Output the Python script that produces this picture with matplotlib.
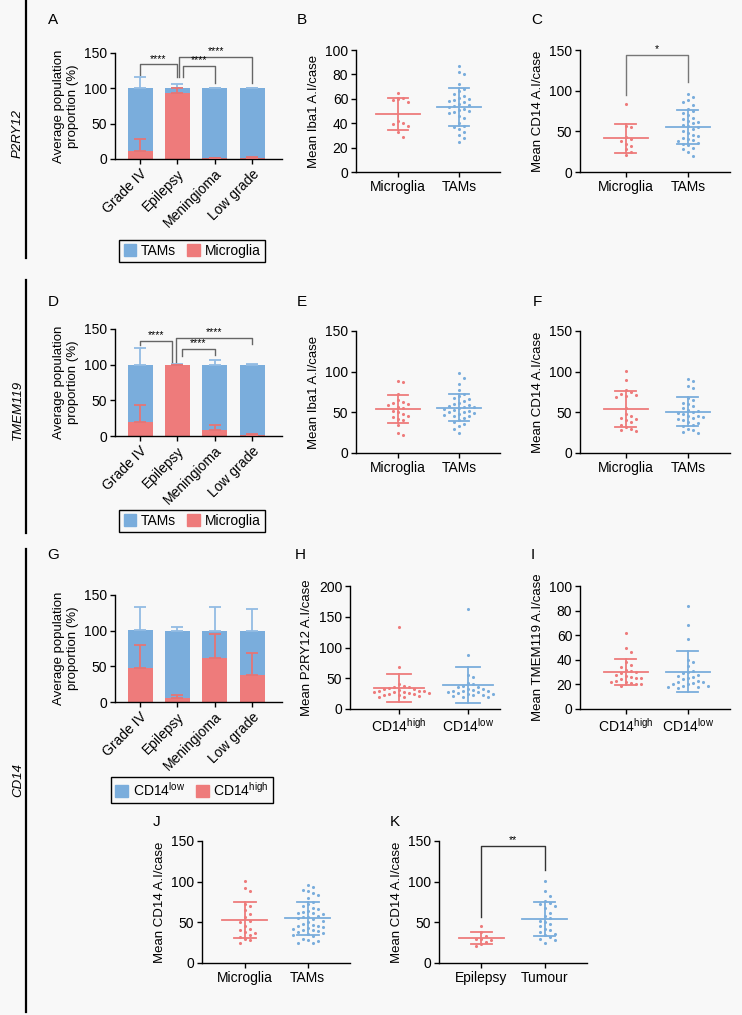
import matplotlib
matplotlib.use('Agg')
import matplotlib.pyplot as plt
from matplotlib.patches import Patch
from matplotlib.lines import Line2D
import numpy as np

plt.rcParams['font.family'] = ['Liberation Sans', 'DejaVu Sans']
plt.rcParams['mathtext.fontset'] = 'custom'
plt.rcParams['mathtext.rm'] = 'Liberation Sans'
plt.rcParams['mathtext.it'] = 'Liberation Sans:italic'
plt.rcParams['font.size'] = 10

W, H = 742, 1015
BG = '#f8f8f8'
BLUE = '#7aaddc'
RED = '#ee7b7b'
BLUE_ERR = '#93bce3'
RED_ERR = '#e57575'

groups = ['Grade IV', 'Epilepsy', 'Meningioma', 'Low grade']

# average population proportion (%) per tumour type
p2ry12_micro = [12, 93, 1, 2]
p2ry12_micro_sd = [16, 7, 0.5, 0.8]
p2ry12_tams = [88, 7, 99, 98]
p2ry12_tams_sd = [16, 6, 0.5, 0.8]

tmem119_micro = [20, 99, 8, 2]
tmem119_micro_sd = [23, 0.8, 7, 1]
tmem119_tams = [80, 1, 92, 98]
tmem119_tams_sd = [23, 0.8, 7, 1]

cd14_high = [48, 5, 62, 38]
cd14_high_sd = [32, 5, 34, 31]
cd14_low = [53, 95, 38, 62]
cd14_low_sd = [32, 5, 33, 30]

# mean A.I per case
b_micro = [65, 61, 60, 59, 57, 42, 40, 39, 38, 33, 29]
b_tams = [87, 82, 80, 72, 68, 66, 64, 62, 61, 60, 59, 58, 57, 56, 55, 54, 53, 52,
          51, 50, 49, 48, 46, 44, 40, 38, 37, 35, 33, 30, 28, 25]
c_micro = [83, 57, 55, 43, 41, 38, 35, 32, 28, 24, 21]
c_tams = [96, 92, 88, 86, 82, 78, 75, 72, 70, 67, 65, 63, 62, 60, 58, 56, 55, 53,
          50, 48, 46, 44, 42, 40, 39, 38, 36, 35, 33, 30, 28, 25, 20]
e_micro = [88, 87, 72, 65, 63, 61, 60, 59, 57, 55, 52, 50, 48, 46, 44, 42, 40, 35, 25, 22]
e_tams = [98, 92, 85, 78, 72, 70, 68, 66, 64, 62, 60, 59, 58, 57, 56, 55, 54, 53,
          52, 51, 50, 49, 48, 47, 46, 45, 43, 40, 38, 36, 33, 30, 25]
f_micro = [101, 90, 77, 75, 72, 71, 70, 69, 55, 48, 45, 43, 42, 40, 38, 35, 32, 30, 28, 27]
f_tams = [91, 88, 82, 80, 68, 65, 62, 60, 58, 55, 53, 52, 50, 49, 48, 46, 45, 44,
          43, 42, 40, 38, 37, 35, 33, 30, 28, 26, 24]
h_high = [134, 68, 40, 37, 36, 35, 34, 33, 32, 31, 30, 30, 29, 28, 28, 27, 26, 26,
          25, 24, 23, 22, 21, 20, 19]
h_low = [162, 88, 55, 52, 42, 40, 38, 36, 35, 33, 32, 31, 30, 30, 29, 28, 27, 26,
         25, 24, 23, 22, 21, 20, 20]
i_high = [62, 50, 46, 38, 36, 34, 32, 31, 30, 29, 28, 27, 26, 25, 25, 24, 23, 22,
          22, 21, 20, 20, 19]
i_low = [84, 68, 57, 40, 38, 35, 31, 30, 29, 28, 27, 26, 25, 24, 23, 22, 22, 21,
         20, 20, 19, 19, 18, 18, 17]
j_micro = [101, 92, 88, 72, 70, 65, 60, 56, 52, 50, 45, 42, 40, 38, 37, 35, 32, 30, 28, 25]
j_tams = [96, 94, 90, 88, 86, 84, 80, 75, 72, 70, 68, 66, 64, 63, 62, 61, 60, 58,
          57, 56, 55, 54, 52, 50, 48, 47, 46, 45, 44, 43, 42, 41, 40, 39, 38, 37,
          36, 35, 33, 30, 28, 27, 25, 24]
k_epilepsy = [45, 38, 33, 30, 29, 28, 26, 23, 21]
k_tumour = [101, 88, 82, 76, 74, 72, 70, 68, 62, 58, 55, 52, 50, 48, 45, 42, 40,
            38, 36, 34, 32, 30, 28, 25]

HIGH = 'CD14$^{\\mathrm{high}}$'
LOW = 'CD14$^{\\mathrm{low}}$'

fig = plt.figure(figsize=(W / 100, H / 100), dpi=100, facecolor=BG)


def make_ax(x0, x1, ytop, ybot):
    ax = fig.add_axes([x0 / W, 1 - ybot / H, (x1 - x0) / W, (ybot - ytop) / H])
    ax.patch.set_visible(False)
    for s in ['top', 'right']:
        ax.spines[s].set_visible(False)
    for s in ['left', 'bottom']:
        ax.spines[s].set_linewidth(1)
    ax.tick_params(direction='out', length=3.5, width=1, pad=2, labelsize=10)
    return ax


def bracket(ax, x1, x2, ytop, y1, y2, text, color='#666666'):
    ax.plot([x1, x1, x2, x2], [y1, ytop, ytop, y2], color=color, lw=1, clip_on=False)
    ax.text((x1 + x2) / 2, ytop + 1.0, text, ha='center', va='bottom', fontsize=7.5)


def bar_panel(ax, lower, lower_sd, upper, upper_sd, legend_labels, legend_y):
    x = np.arange(len(groups))
    lower = np.array(lower, float)
    upper = np.array(upper, float)
    ax.bar(x, lower, width=0.67, color=RED, zorder=2)
    ax.bar(x, upper, bottom=lower, width=0.67, color=BLUE, zorder=2)
    zero = np.zeros(len(x))
    ax.errorbar(x, lower + upper, yerr=[zero, upper_sd], fmt='none', ecolor=BLUE_ERR,
                elinewidth=1.3, capsize=4.5, capthick=1.3, zorder=3)
    ax.errorbar(x, lower, yerr=[zero, lower_sd], fmt='none', ecolor=RED_ERR,
                elinewidth=1.3, capsize=4.5, capthick=1.3, zorder=3)
    ax.set_xlim(-0.67, 3.8)
    ax.set_ylim(0, 150)
    ax.set_yticks([0, 50, 100, 150])
    ax.set_xticks(x)
    ax.set_xticklabels(groups, rotation=45, ha='right', rotation_mode='anchor', fontsize=10)
    ax.set_ylabel('Average population\nproportion (%)', fontsize=9.5, labelpad=4)
    handles = [Patch(color=BLUE), Patch(color=RED)]
    ax.legend(handles, legend_labels, loc='center', ncol=2,
              bbox_to_anchor=(192 / W, 1 - legend_y / H), bbox_transform=fig.transFigure,
              frameon=True, fancybox=False, edgecolor='black', framealpha=1, facecolor=BG,
              handlelength=0.9, handleheight=0.9, handletextpad=0.35, columnspacing=0.8,
              borderpad=0.3, borderaxespad=0, fontsize=10)
    ax.get_legend().get_frame().set_linewidth(1)


def swarm(ax, xc, vals, gap=5.0):
    pts = ax.transData.transform(np.column_stack([np.full(len(vals), float(xc)), vals]))
    out = pts.copy()
    placed = []
    for k in np.argsort(-vals, kind='stable'):
        x0, y0 = pts[k]
        for n in range(80):
            dx = ((n + 1) // 2) * gap * (1 if n % 2 else -1)
            if all((x0 + dx - px) ** 2 + (y0 - py) ** 2 >= gap ** 2 for px, py in placed):
                break
        placed.append((x0 + dx, y0))
        out[k] = (x0 + dx, y0)
    return ax.transData.inverted().transform(out)[:, 0]


def dot_panel(ax, series, labels, ylabel, ymax, step, xlim):
    ax.set_xlim(*xlim)
    ax.set_ylim(0, ymax)
    ax.set_yticks(np.arange(0, ymax + 1, step))
    ax.set_xticks([0, 1])
    ax.set_xticklabels(labels, fontsize=10)
    ax.set_ylabel(ylabel, fontsize=9.5, labelpad=4)
    for i, (vals, col) in enumerate(zip(series, [RED, BLUE])):
        vals = np.asarray(vals, float)
        xs = swarm(ax, i, vals)
        ax.scatter(xs, vals, s=5, color=col, lw=0, zorder=3)
        m = vals.mean()
        sd = vals.std(ddof=1)
        ax.plot([i - 0.36, i + 0.36], [m, m], color=col, lw=1.3, zorder=4)
        ax.plot([i - 0.17, i + 0.17], [m + sd, m + sd], color=col, lw=1.3, zorder=4)
        ax.plot([i - 0.17, i + 0.17], [m - sd, m - sd], color=col, lw=1.3, zorder=4)
        ax.plot([i, i], [m - sd, m + sd], color=col, lw=1.3, zorder=4)


# row 1: P2RY12
axA = make_ax(115, 282, 53, 159)
bar_panel(axA, p2ry12_micro, p2ry12_micro_sd, p2ry12_tams, p2ry12_tams_sd,
          ['TAMs', 'Microglia'], 251)
bracket(axA, 0, 0.98, 134, 119, 116, '****')
bracket(axA, 1.14, 2, 131.5, 116, 107, '****')
bracket(axA, 1.05, 3, 145, 116, 107, '****')

axB = make_ax(356, 500, 50, 172)
dot_panel(axB, [b_micro, b_tams], ['Microglia', 'TAMs'], 'Mean Iba1 A.I/case', 100, 20, (-0.69, 1.67))

axC = make_ax(580, 730, 50, 172)
dot_panel(axC, [c_micro, c_tams], ['Microglia', 'TAMs'], 'Mean CD14 A.I/case', 150, 50, (-0.74, 1.68))
bracket(axC, 0, 1, 144, 95, 111, '*', color='#777777')

# row 2: TMEM119
axD = make_ax(115, 282, 329, 436)
bar_panel(axD, tmem119_micro, tmem119_micro_sd, tmem119_tams, tmem119_tams_sd,
          ['TAMs', 'Microglia'], 521)
bracket(axD, 0, 0.85, 133, 127, 101, '****')
bracket(axD, 1.12, 2, 122, 112, 113, '****')
bracket(axD, 0.96, 3, 137, 101, 129, '****')

axE = make_ax(356, 500, 331, 453)
dot_panel(axE, [e_micro, e_tams], ['Microglia', 'TAMs'], 'Mean Iba1 A.I/case', 150, 50, (-0.69, 1.67))

axF = make_ax(580, 730, 331, 453)
dot_panel(axF, [f_micro, f_tams], ['Microglia', 'TAMs'], 'Mean CD14 A.I/case', 150, 50, (-0.74, 1.68))

# row 3: CD14
axG = make_ax(115, 282, 595, 702)
bar_panel(axG, cd14_high, cd14_high_sd, cd14_low, cd14_low_sd, [LOW, HIGH], 790)

axH = make_ax(350, 500, 586, 709)
dot_panel(axH, [h_high, h_low], [HIGH, LOW], 'Mean P2RY12 A.I/case', 200, 50, (-0.71, 1.46))

axI = make_ax(580, 730, 586, 709)
dot_panel(axI, [i_high, i_low], [HIGH, LOW], 'Mean TMEM119 A.I/case', 100, 20, (-0.74, 1.68))

axJ = make_ax(202, 350, 841, 963)
dot_panel(axJ, [j_micro, j_tams], ['Microglia', 'TAMs'], 'Mean CD14 A.I/case', 150, 50, (-0.68, 1.67))

axK = make_ax(439, 587, 841, 963)
dot_panel(axK, [k_epilepsy, k_tumour], ['Epilepsy', 'Tumour'], 'Mean CD14 A.I/case', 150, 50, (-0.67, 1.67))
bracket(axK, 0, 1, 144, 57, 114, '**', color='#333333')

# panel letters
letters = {'A': (53, 20), 'B': (302, 20), 'C': (537, 20),
           'D': (53, 302), 'E': (302, 302), 'F': (537, 302),
           'G': (53, 555), 'H': (300, 555), 'I': (533, 555),
           'J': (157, 822), 'K': (395, 822)}
for k, (px, py) in letters.items():
    fig.text(px / W, 1 - py / H, k, fontsize=11, ha='center', va='center')

# row labels and separators
rows = [('P2RY12', 133, 0, 258), ('TMEM119', 410, 280, 533), ('CD14', 780, 549, 1012)]
for name, yc, y0, y1 in rows:
    fig.text(18 / W, 1 - yc / H, name, rotation=90, style='italic', fontsize=9.5,
             ha='center', va='center')
    fig.add_artist(Line2D([26 / W, 26 / W], [1 - y0 / H, 1 - y1 / H], color='black', lw=1.6))

fig.savefig('out.png', dpi=100, facecolor=BG)
